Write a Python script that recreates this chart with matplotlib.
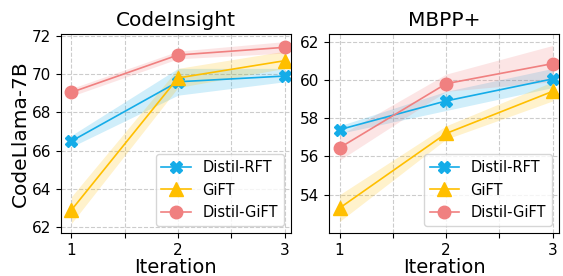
import numpy as np
import matplotlib
matplotlib.use("Agg")
import matplotlib.pyplot as plt

iters = [1, 2, 3]
labels = ["Distil-RFT", "GiFT", "Distil-GiFT"]

# CodeInsight
ci_rft = [66.5, 69.6, 69.9]
ci_rft_lo = [66.2, 68.9, 69.6]
ci_rft_hi = [66.8, 70.3, 70.3]
ci_gift = [62.9, 69.8, 70.7]
ci_gift_lo = [62.2, 69.3, 70.3]
ci_gift_hi = [63.6, 70.3, 71.2]
ci_dgift = [69.05, 71.0, 71.4]
ci_dgift_lo = [68.85, 70.8, 71.1]
ci_dgift_hi = [69.25, 71.2, 71.7]

# MBPP+
mb_rft = [57.4, 58.9, 60.05]
mb_rft_lo = [57.2, 58.4, 59.6]
mb_rft_hi = [57.6, 59.4, 60.6]
mb_gift = [53.3, 57.2, 59.4]
mb_gift_lo = [52.6, 56.9, 58.9]
mb_gift_hi = [54.0, 57.6, 59.9]
mb_dgift = [56.45, 59.8, 60.85]
mb_dgift_lo = [55.8, 59.4, 59.9]
mb_dgift_hi = [57.1, 60.3, 61.8]

colors = ["#14ACE8", "#FFBF00", "#F08080"]
markers = ["X", "^", "o"]
msizes = [8, 10, 9]

fig, axes = plt.subplots(1, 2, figsize=(5.63, 2.76), dpi=100)
fig.subplots_adjust(left=0.108, right=0.993, bottom=0.156, top=0.877, wspace=0.165)

panels = [
    (axes[0], "CodeInsight",
     [ci_rft, ci_gift, ci_dgift], [ci_rft_lo, ci_gift_lo, ci_dgift_lo], [ci_rft_hi, ci_gift_hi, ci_dgift_hi],
     (61.7, 72.1), [62, 64, 66, 68, 70, 72]),
    (axes[1], "MBPP+",
     [mb_rft, mb_gift, mb_dgift], [mb_rft_lo, mb_gift_lo, mb_dgift_lo], [mb_rft_hi, mb_gift_hi, mb_dgift_hi],
     (52.0, 62.4), [54, 56, 58, 60, 62]),
]

for ax, title, ys, los, his, ylim, yt in panels:
    for y, lo, hi, c, m, ms, lab in zip(ys, los, his, colors, markers, msizes, labels):
        ax.fill_between(iters, lo, hi, color=c, alpha=0.2, linewidth=0)
        ax.plot(iters, y, color=c, marker=m, markersize=ms, linewidth=1.2, label=lab)
    ax.set_title(title, fontsize=14.5)
    ax.set_xlim(0.9, 3.06)
    ax.set_ylim(*ylim)
    ax.set_xticks([1, 1.5, 2, 2.5, 3])
    ax.set_xticklabels(["1", "", "2", "", "3"])
    ax.set_yticks(yt)
    ax.tick_params(labelsize=11)
    ax.grid(True, linestyle="--", color="#cccccc", linewidth=0.8)
    ax.set_axisbelow(True)
    ax.set_xlabel("Iteration", fontsize=14, labelpad=0)
    ax.legend(loc="lower right", fontsize=10.5)

axes[0].set_ylabel("CodeLlama-7B", fontsize=14.5, labelpad=1)

fig.savefig("out.png", dpi=100)
